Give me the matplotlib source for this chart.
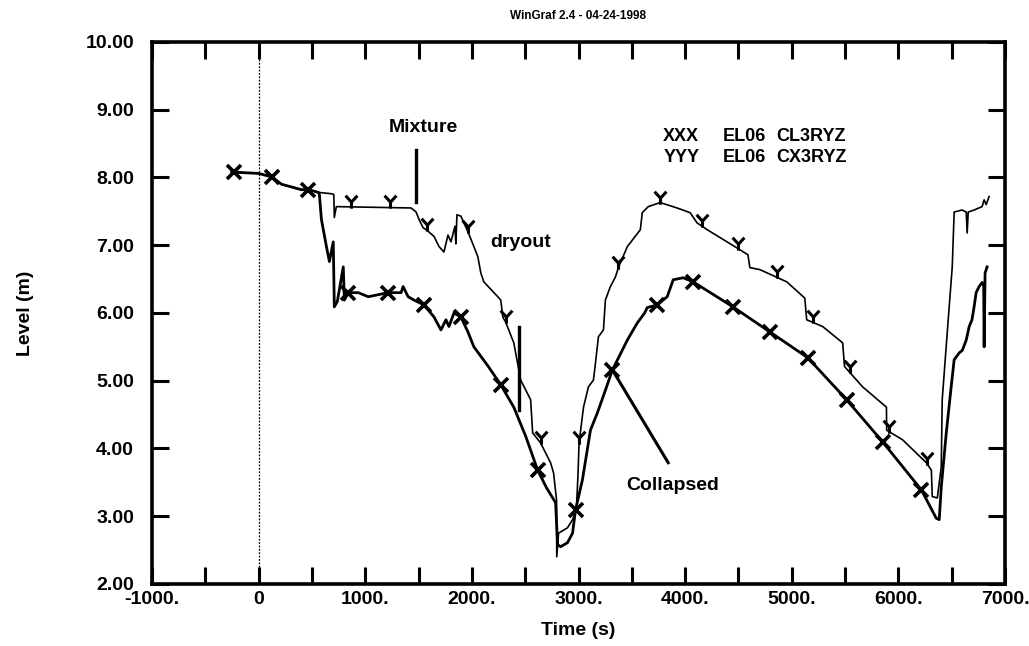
import matplotlib
matplotlib.use("Agg")
import matplotlib.pyplot as plt
from matplotlib.path import Path

plt.rcParams['font.family'] = ['Liberation Sans', 'DejaVu Sans']
plt.rcParams['font.weight'] = 'bold'

# Collapsed level, EL06 CL3RYZ (thick line, "X" symbols)
cl_time = [-252, 0, 121, 215, 402, 467, 561, 570, 589, 636, 664, 700, 710, 738,
           794, 804, 841, 935, 1028, 1215, 1336, 1355, 1402, 1458, 1551, 1645,
           1710, 1757, 1785, 1832, 1897, 1963, 2019, 2150, 2271, 2393, 2505,
           2617, 2700, 2785, 2804, 2832, 2897, 2944, 2972, 3037, 3112, 3178,
           3250, 3318, 3458, 3550, 3620, 3645, 3738, 3800, 3832, 3888, 3981,
           4075, 4449, 4795, 5150, 5514, 5851, 6215, 6355, 6383, 6402, 6449,
           6495, 6523, 6570, 6600, 6636, 6664, 6690, 6710, 6729, 6757, 6785,
           6800, 6804, 6813, 6832]
cl_level = [8.08, 8.06, 8.01, 7.90, 7.82, 7.82, 7.78, 7.75, 7.38, 6.98, 6.76,
            7.05, 6.09, 6.17, 6.68, 6.19, 6.30, 6.30, 6.24, 6.30, 6.30, 6.39,
            6.24, 6.19, 6.12, 5.94, 5.75, 5.90, 5.80, 6.00, 5.94, 5.72, 5.50,
            5.22, 4.94, 4.61, 4.18, 3.68, 3.42, 3.20, 2.58, 2.55, 2.61, 2.75,
            3.09, 3.54, 4.27, 4.53, 4.85, 5.16, 5.60, 5.85, 6.00, 6.08, 6.12,
            6.20, 6.24, 6.49, 6.52, 6.46, 6.09, 5.72, 5.34, 4.72, 4.10, 3.39,
            2.97, 2.95, 3.43, 4.23, 4.91, 5.31, 5.41, 5.45, 5.60, 5.80, 5.90,
            6.09, 6.30, 6.39, 6.45, 6.40, 5.50, 6.59, 6.68]
cl_mark_time = [-234, 121, 467, 841, 1215, 1551, 1897, 2271, 2617, 2972, 3318,
                3738, 4075, 4449, 4795, 5150, 5514, 5851, 6215]
cl_mark_level = [8.08, 8.01, 7.82, 6.30, 6.30, 6.12, 5.94, 4.94, 3.68, 3.09,
                 5.16, 6.12, 6.46, 6.09, 5.72, 5.34, 4.72, 4.10, 3.39]

# Mixture level, EL06 CX3RYZ (thin line, "Y" symbols)
cx_time = [-252, 0, 121, 215, 402, 467, 561, 682, 705, 710, 729, 1430, 1477,
           1505, 1542, 1579, 1645, 1692, 1738, 1776, 1804, 1841, 1850, 1860,
           1897, 1963, 2019, 2056, 2084, 2112, 2243, 2271, 2290, 2318, 2393,
           2458, 2551, 2570, 2645, 2738, 2766, 2794, 2796, 2813, 2897, 2944,
           2980, 2995, 3005, 3047, 3093, 3140, 3159, 3187, 3234, 3252, 3299,
           3346, 3374, 3458, 3580, 3598, 3654, 3766, 3925, 4047, 4112, 4206,
           4393, 4589, 4607, 4701, 4953, 5122, 5140, 5290, 5477, 5495, 5664,
           5888, 5890, 6038, 6262, 6309, 6318, 6365, 6402, 6411, 6458, 6505,
           6523, 6598, 6636, 6645, 6655, 6710, 6785, 6804, 6823, 6851]
cx_level = [8.08, 8.06, 8.01, 7.90, 7.82, 7.82, 7.78, 7.76, 7.75, 7.41, 7.57,
            7.55, 7.49, 7.38, 7.26, 7.22, 7.13, 6.98, 6.90, 7.15, 7.05, 7.28,
            7.02, 7.45, 7.43, 7.20, 6.98, 6.83, 6.59, 6.46, 6.24, 6.19, 5.94,
            5.86, 5.56, 5.01, 4.72, 4.23, 4.08, 3.79, 3.64, 3.24, 2.40, 2.75,
            2.83, 2.95, 3.10, 3.60, 4.08, 4.61, 4.91, 5.01, 5.26, 5.65, 5.75,
            6.19, 6.39, 6.53, 6.67, 6.98, 7.23, 7.48, 7.57, 7.63, 7.55, 7.48,
            7.33, 7.23, 7.05, 6.86, 6.67, 6.64, 6.46, 6.22, 5.90, 5.80, 5.56,
            5.21, 4.91, 4.61, 4.27, 4.13, 3.79, 3.68, 3.29, 3.27, 3.73, 4.72,
            5.71, 6.68, 7.49, 7.52, 7.49, 7.18, 7.49, 7.52, 7.57, 7.67, 7.60,
            7.72]
cx_mark_time = [869, 1234, 1579, 1963, 2318, 2645, 3005, 3374, 3766, 4159,
                4495, 4860, 5196, 5542, 5916, 6271]
cx_mark_level = [7.56, 7.56, 7.22, 7.20, 5.86, 4.08, 4.08, 6.67, 7.63, 7.28,
                 6.95, 6.53, 5.86, 5.13, 4.25, 3.77]

x_ticks = [-1000, 0, 1000, 2000, 3000, 4000, 5000, 6000, 7000]
x_tick_labels = ['-1000.', '0', '1000.', '2000.', '3000.', '4000.', '5000.',
                 '6000.', '7000.']
y_ticks = [2, 3, 4, 5, 6, 7, 8, 9, 10]
y_tick_labels = ['2.00', '3.00', '4.00', '5.00', '6.00', '7.00', '8.00',
                 '9.00', '10.00']

# "Y" shaped symbol whose stem ends on the data point
y_symbol = Path([(-0.5, 1.0), (0.0, 0.45), (0.5, 1.0), (0.0, 0.45), (0.0, -0.1)],
                [Path.MOVETO, Path.LINETO, Path.LINETO, Path.MOVETO, Path.LINETO])

FS = 14
LEG_FS = 13

fig = plt.figure(figsize=(10.29, 6.46), dpi=100)
ax = fig.add_axes([0.1477, 0.096, 0.829, 0.839])

ax.axvline(0, color='black', lw=0.9, ls=(0, (1.5, 1.2)), zorder=1)

ax.plot(cx_time, cx_level, color='black', lw=1.2, zorder=2)
ax.plot(cl_time, cl_level, color='black', lw=2.0, zorder=3)
ax.plot(cx_mark_time, cx_mark_level, ls='none', marker=y_symbol, ms=17,
        mfc='none', mec='black', mew=2.2, zorder=4)
ax.plot(cl_mark_time, cl_mark_level, ls='none', marker='x', ms=10,
        mec='black', mew=2.6, zorder=4)

# annotations
ax.text(1542, 8.74, 'Mixture', ha='center', va='center', fontsize=FS, fontweight='bold')
ax.plot([1477, 1477], [8.41, 7.64], color='black', lw=2.4)
ax.text(2458, 7.04, 'dryout', ha='center', va='center', fontsize=FS, fontweight='bold')
ax.plot([2439, 2439], [5.80, 4.57], color='black', lw=2.4)
ax.text(3879, 3.46, 'Collapsed', ha='center', va='center', fontsize=FS, fontweight='bold')
ax.plot([3318, 3841], [5.16, 3.79], color='black', lw=2.2)

# series key
ax.text(3794, 8.60, 'XXX', ha='left', va='center', fontsize=LEG_FS, fontweight='bold')
ax.text(4355, 8.60, 'EL06', ha='left', va='center', fontsize=LEG_FS, fontweight='bold')
ax.text(4855, 8.60, 'CL3RYZ', ha='left', va='center', fontsize=LEG_FS, fontweight='bold')
ax.text(3794, 8.30, 'YYY', ha='left', va='center', fontsize=LEG_FS, fontweight='bold')
ax.text(4355, 8.30, 'EL06', ha='left', va='center', fontsize=LEG_FS, fontweight='bold')
ax.text(4855, 8.30, 'CX3RYZ', ha='left', va='center', fontsize=LEG_FS, fontweight='bold')

ax.set_xlim(-1000, 7000)
ax.set_ylim(2, 10)
ax.set_xticks(x_ticks)
ax.set_xticklabels(x_tick_labels, fontsize=FS, fontweight='bold')
ax.set_xticks([t + 500 for t in x_ticks[:-1]], minor=True)
ax.set_yticks(y_ticks)
ax.set_yticklabels(y_tick_labels, fontsize=FS, fontweight='bold')
ax.tick_params(which='both', direction='in', length=12, width=2.2,
               top=True, right=True, bottom=True, left=True)
ax.tick_params(axis='y', pad=13)
ax.tick_params(axis='x', pad=5)
for s in ax.spines.values():
    s.set_linewidth(2.6)

ax.set_xlabel('Time (s)', fontsize=FS, fontweight='bold', labelpad=10)
ax.set_ylabel('Level (m)', fontsize=FS, fontweight='bold', labelpad=37)

fig.text(0.562, 0.975, 'WinGraf 2.4 - 04-24-1998', ha='center', va='center',
         fontsize=8.5, fontweight='bold')

fig.savefig('out.png', dpi=100)
